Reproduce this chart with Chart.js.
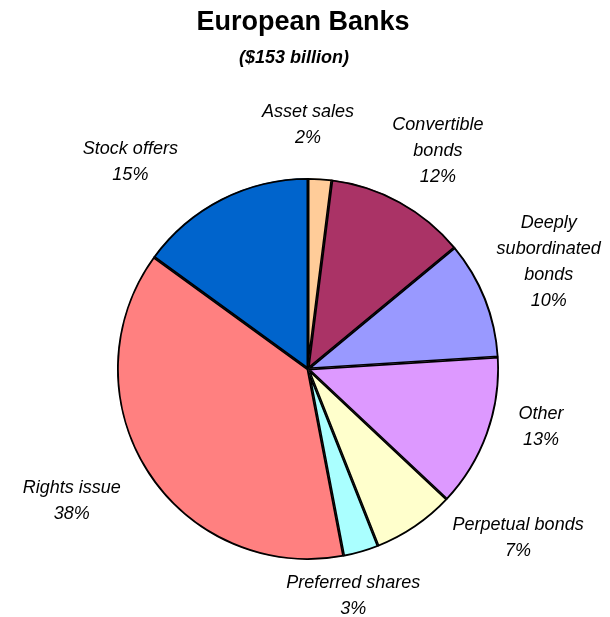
<!DOCTYPE html>
<html>
<head>
<meta charset="utf-8">
<script src="https://cdn.jsdelivr.net/npm/chart.js@4"></script>
<style>
  html, body { margin: 0; padding: 0; background: #fff; }
  #wrap { width: 610px; height: 617px; }
</style>
</head>
<body>
<div id="wrap"><canvas id="pieCanvas" width="610" height="617"></canvas></div>
<script>
const categories = ['Asset sales', 'Convertible bonds', 'Deeply subordinated bonds', 'Other',
                    'Perpetual bonds', 'Preferred shares', 'Rights issue', 'Stock offers'];
const shares = [2, 12, 10, 13, 7, 3, 38, 15];
const labelLines = [
    ['Asset sales'],
    ['Convertible', 'bonds'],
    ['Deeply', 'subordinated', 'bonds'],
    ['Other'],
    ['Perpetual bonds'],
    ['Preferred shares'],
    ['Rights issue'],
    ['Stock offers']
];
const sliceColors = ['#ffcc99', '#aa3366', '#9999ff', '#dd99ff', '#ffffcc', '#aaffff', '#ff8080', '#0064cc'];

// label centre relative to pie centre, in units of the radius
const labelPos = [[0, -1.28], [0.68, -1.14], [1.26, -0.56], [1.22, 0.305],
                  [1.10, 0.885], [0.237, 1.19], [-1.237, 0.69], [-0.93, -1.085]];

const textPlugin = {
    id: 'texts',
    afterDraw(chart) {
        const ctx = chart.ctx;
        ctx.save();
        ctx.fillStyle = '#000';
        ctx.textAlign = 'center';
        ctx.textBaseline = 'middle';
        ctx.font = 'bold 27px "Liberation Sans", Arial, sans-serif';
        ctx.fillText('European Banks', 303, 23);
        ctx.font = 'italic bold 18px "Liberation Sans", Arial, sans-serif';
        ctx.fillText('($153 billion)', 294, 58);

        const arc = chart.getDatasetMeta(0).data[0];
        const cx = arc.x, cy = arc.y, r = arc.outerRadius;
        ctx.font = 'italic 18px "Liberation Sans", Arial, sans-serif';
        const lh = 26;
        shares.forEach((v, i) => {
            const lines = labelLines[i].concat([v + '%']);
            const x = cx + labelPos[i][0] * r;
            const y0 = cy + labelPos[i][1] * r - (lines.length - 1) * lh / 2;
            lines.forEach((t, j) => ctx.fillText(t, x, y0 + j * lh));
        });
        ctx.restore();
    }
};

new Chart(document.getElementById('pieCanvas'), {
    type: 'pie',
    data: {
        labels: categories,
        datasets: [{
            data: shares,
            backgroundColor: sliceColors,
            borderColor: '#000',
            borderWidth: 1.5,
            borderAlign: 'inner',
            hoverOffset: 0
        }]
    },
    options: {
        responsive: false,
        animation: false,
        events: [],
        layout: { padding: { left: 117, right: 111, top: 178, bottom: 57 } },
        plugins: {
            legend: { display: false },
            title: { display: false },
            tooltip: { enabled: false }
        }
    },
    plugins: [textPlugin]
});
</script>
</body>
</html>
